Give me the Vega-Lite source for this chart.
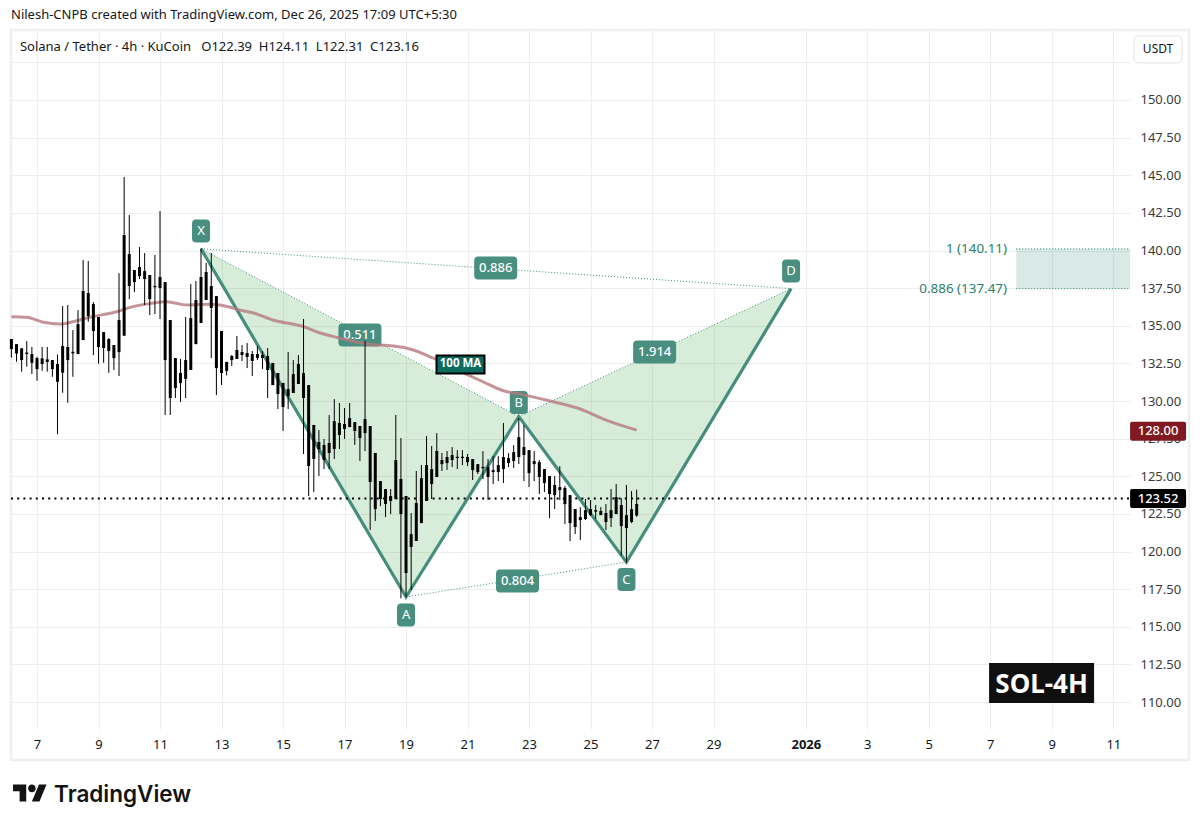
{
  "$schema": "https://vega.github.io/schema/vega-lite/v6.json",
  "autosize": "none",
  "width": 1119,
  "height": 699,
  "padding": {"left": 11, "top": 30, "right": 70, "bottom": 99},
  "background": "#ffffff",
  "title": {
    "text": "Nilesh-CNPB created with TradingView.com, Dec 26, 2025 17:09 UTC+5:30",
    "anchor": "start",
    "frame": "group",
    "font": "Noto Sans",
    "fontSize": 13,
    "fontWeight": "normal",
    "color": "#131722",
    "offset": 7
  },
  "config": {"view": {"stroke": null}, "font": "Noto Sans"},
  "datasets": {
    "candles": [
      {"time":"2025-12-06T04:00Z","high":134.12,"low":132.88,"bodyTop":134.12,"bodyBottom":133.45},
      {"time":"2025-12-06T08:00Z","high":133.78,"low":132.61,"bodyTop":133.78,"bodyBottom":133.16},
      {"time":"2025-12-06T12:00Z","high":133.50,"low":131.95,"bodyTop":133.50,"bodyBottom":132.72},
      {"time":"2025-12-06T16:00Z","high":133.98,"low":132.28,"bodyTop":133.22,"bodyBottom":133.12},
      {"time":"2025-12-06T20:00Z","high":133.59,"low":131.79,"bodyTop":133.12,"bodyBottom":132.54},
      {"time":"2025-12-07T00:00Z","high":132.94,"low":131.35,"bodyTop":132.85,"bodyBottom":132.12},
      {"time":"2025-12-07T04:00Z","high":133.59,"low":132.01,"bodyTop":132.83,"bodyBottom":132.46},
      {"time":"2025-12-07T08:00Z","high":133.59,"low":131.95,"bodyTop":132.77,"bodyBottom":132.59},
      {"time":"2025-12-07T12:00Z","high":132.72,"low":131.61,"bodyTop":132.72,"bodyBottom":132.12},
      {"time":"2025-12-07T16:00Z","high":133.10,"low":127.80,"bodyTop":132.46,"bodyBottom":131.28},
      {"time":"2025-12-07T20:00Z","high":136.31,"low":130.55,"bodyTop":133.65,"bodyBottom":131.88},
      {"time":"2025-12-08T00:00Z","high":136.38,"low":129.89,"bodyTop":133.59,"bodyBottom":132.72},
      {"time":"2025-12-08T04:00Z","high":134.71,"low":131.61,"bodyTop":133.27,"bodyBottom":133.17},
      {"time":"2025-12-08T08:00Z","high":136.04,"low":133.12,"bodyTop":135.11,"bodyBottom":133.12},
      {"time":"2025-12-08T12:00Z","high":139.37,"low":134.05,"bodyTop":137.31,"bodyBottom":134.05},
      {"time":"2025-12-08T16:00Z","high":139.30,"low":135.27,"bodyTop":137.17,"bodyBottom":135.64},
      {"time":"2025-12-08T20:00Z","high":136.57,"low":133.05,"bodyTop":136.44,"bodyBottom":134.65},
      {"time":"2025-12-09T00:00Z","high":135.58,"low":132.48,"bodyTop":135.58,"bodyBottom":133.59},
      {"time":"2025-12-09T04:00Z","high":134.58,"low":132.54,"bodyTop":134.58,"bodyBottom":133.52},
      {"time":"2025-12-09T08:00Z","high":134.18,"low":131.88,"bodyTop":134.12,"bodyBottom":133.32},
      {"time":"2025-12-09T12:00Z","high":133.72,"low":132.06,"bodyTop":133.72,"bodyBottom":132.85},
      {"time":"2025-12-09T16:00Z","high":138.50,"low":131.66,"bodyTop":135.38,"bodyBottom":133.25},
      {"time":"2025-12-09T20:00Z","high":144.88,"low":134.34,"bodyTop":141.03,"bodyBottom":134.34},
      {"time":"2025-12-10T00:00Z","high":142.36,"low":136.77,"bodyTop":139.76,"bodyBottom":137.64},
      {"time":"2025-12-10T04:00Z","high":138.70,"low":137.24,"bodyTop":138.70,"bodyBottom":137.90},
      {"time":"2025-12-10T08:00Z","high":140.23,"low":138.10,"bodyTop":138.90,"bodyBottom":138.30},
      {"time":"2025-12-10T12:00Z","high":139.83,"low":136.38,"bodyTop":138.63,"bodyBottom":138.10},
      {"time":"2025-12-10T16:00Z","high":138.37,"low":135.71,"bodyTop":138.37,"bodyBottom":136.77},
      {"time":"2025-12-10T20:00Z","high":139.70,"low":135.78,"bodyTop":137.65,"bodyBottom":137.56},
      {"time":"2025-12-11T00:00Z","high":142.62,"low":135.45,"bodyTop":138.24,"bodyBottom":137.51},
      {"time":"2025-12-11T04:00Z","high":137.90,"low":129.07,"bodyTop":137.90,"bodyBottom":132.72},
      {"time":"2025-12-11T08:00Z","high":135.38,"low":129.07,"bodyTop":135.38,"bodyBottom":130.20},
      {"time":"2025-12-11T12:00Z","high":132.85,"low":130.20,"bodyTop":132.85,"bodyBottom":130.86},
      {"time":"2025-12-11T16:00Z","high":132.79,"low":129.93,"bodyTop":131.86,"bodyBottom":131.19},
      {"time":"2025-12-11T20:00Z","high":135.58,"low":130.20,"bodyTop":132.72,"bodyBottom":131.46},
      {"time":"2025-12-12T00:00Z","high":137.77,"low":132.06,"bodyTop":135.51,"bodyBottom":132.06},
      {"time":"2025-12-12T04:00Z","high":137.97,"low":133.78,"bodyTop":136.71,"bodyBottom":133.78},
      {"time":"2025-12-12T08:00Z","high":140.14,"low":135.18,"bodyTop":138.24,"bodyBottom":135.18},
      {"time":"2025-12-12T12:00Z","high":139.17,"low":136.71,"bodyTop":138.57,"bodyBottom":136.71},
      {"time":"2025-12-12T16:00Z","high":139.83,"low":132.85,"bodyTop":137.64,"bodyBottom":136.18},
      {"time":"2025-12-12T20:00Z","high":136.97,"low":130.40,"bodyTop":136.97,"bodyBottom":132.19},
      {"time":"2025-12-13T00:00Z","high":134.65,"low":131.06,"bodyTop":134.65,"bodyBottom":131.86},
      {"time":"2025-12-13T04:00Z","high":132.60,"low":131.70,"bodyTop":132.60,"bodyBottom":132.00},
      {"time":"2025-12-13T08:00Z","high":133.06,"low":132.33,"bodyTop":132.99,"bodyBottom":132.72},
      {"time":"2025-12-13T12:00Z","high":134.32,"low":132.79,"bodyTop":133.39,"bodyBottom":132.79},
      {"time":"2025-12-13T16:00Z","high":133.72,"low":132.66,"bodyTop":133.26,"bodyBottom":133.06},
      {"time":"2025-12-13T20:00Z","high":133.85,"low":132.19,"bodyTop":133.19,"bodyBottom":132.92},
      {"time":"2025-12-14T00:00Z","high":133.32,"low":131.66,"bodyTop":133.12,"bodyBottom":132.66},
      {"time":"2025-12-14T04:00Z","high":133.65,"low":132.72,"bodyTop":133.12,"bodyBottom":132.86},
      {"time":"2025-12-14T08:00Z","high":133.32,"low":132.13,"bodyTop":133.06,"bodyBottom":132.86},
      {"time":"2025-12-14T12:00Z","high":133.52,"low":130.20,"bodyTop":132.99,"bodyBottom":132.06},
      {"time":"2025-12-14T16:00Z","high":132.53,"low":131.06,"bodyTop":132.53,"bodyBottom":131.06},
      {"time":"2025-12-14T20:00Z","high":131.86,"low":129.47,"bodyTop":131.86,"bodyBottom":130.47},
      {"time":"2025-12-15T00:00Z","high":131.20,"low":128.01,"bodyTop":131.20,"bodyBottom":129.60},
      {"time":"2025-12-15T04:00Z","high":133.26,"low":129.47,"bodyTop":130.80,"bodyBottom":130.33},
      {"time":"2025-12-15T08:00Z","high":132.72,"low":130.53,"bodyTop":131.79,"bodyBottom":130.53},
      {"time":"2025-12-15T12:00Z","high":133.06,"low":131.13,"bodyTop":132.46,"bodyBottom":131.13},
      {"time":"2025-12-15T16:00Z","high":135.45,"low":126.48,"bodyTop":131.86,"bodyBottom":130.20},
      {"time":"2025-12-15T20:00Z","high":131.06,"low":123.69,"bodyTop":131.06,"bodyBottom":125.68},
      {"time":"2025-12-16T00:00Z","high":128.41,"low":123.95,"bodyTop":128.41,"bodyBottom":126.15},
      {"time":"2025-12-16T04:00Z","high":128.07,"low":125.02,"bodyTop":127.28,"bodyBottom":126.81},
      {"time":"2025-12-16T08:00Z","high":127.48,"low":125.48,"bodyTop":127.08,"bodyBottom":126.08},
      {"time":"2025-12-16T12:00Z","high":129.07,"low":125.48,"bodyTop":127.21,"bodyBottom":126.55},
      {"time":"2025-12-16T16:00Z","high":130.13,"low":126.15,"bodyTop":128.67,"bodyBottom":126.81},
      {"time":"2025-12-16T20:00Z","high":129.87,"low":126.81,"bodyTop":128.54,"bodyBottom":127.74},
      {"time":"2025-12-17T00:00Z","high":129.54,"low":127.48,"bodyTop":128.47,"bodyBottom":128.14},
      {"time":"2025-12-17T04:00Z","high":129.87,"low":128.27,"bodyTop":128.87,"bodyBottom":128.27},
      {"time":"2025-12-17T08:00Z","high":128.60,"low":127.08,"bodyTop":128.60,"bodyBottom":128.01},
      {"time":"2025-12-17T12:00Z","high":128.34,"low":126.01,"bodyTop":128.34,"bodyBottom":127.54},
      {"time":"2025-12-17T16:00Z","high":133.99,"low":126.68,"bodyTop":128.80,"bodyBottom":127.87},
      {"time":"2025-12-17T20:00Z","high":128.34,"low":121.43,"bodyTop":128.34,"bodyBottom":124.62},
      {"time":"2025-12-18T00:00Z","high":126.55,"low":122.03,"bodyTop":126.55,"bodyBottom":122.82},
      {"time":"2025-12-18T04:00Z","high":124.68,"low":123.02,"bodyTop":124.68,"bodyBottom":123.49},
      {"time":"2025-12-18T08:00Z","high":124.15,"low":122.29,"bodyTop":124.15,"bodyBottom":123.16},
      {"time":"2025-12-18T12:00Z","high":124.15,"low":122.49,"bodyTop":123.69,"bodyBottom":123.36},
      {"time":"2025-12-18T16:00Z","high":129.07,"low":123.49,"bodyTop":126.08,"bodyBottom":123.49},
      {"time":"2025-12-18T20:00Z","high":127.54,"low":116.89,"bodyTop":124.82,"bodyBottom":122.49},
      {"time":"2025-12-19T00:00Z","high":123.69,"low":117.00,"bodyTop":123.69,"bodyBottom":118.57},
      {"time":"2025-12-19T04:00Z","high":122.56,"low":117.44,"bodyTop":121.16,"bodyBottom":120.30},
      {"time":"2025-12-19T08:00Z","high":125.35,"low":120.70,"bodyTop":123.22,"bodyBottom":120.70},
      {"time":"2025-12-19T12:00Z","high":125.75,"low":121.89,"bodyTop":124.88,"bodyBottom":121.89},
      {"time":"2025-12-19T16:00Z","high":127.67,"low":123.36,"bodyTop":125.75,"bodyBottom":123.36},
      {"time":"2025-12-19T20:00Z","high":127.01,"low":123.49,"bodyTop":125.48,"bodyBottom":124.49},
      {"time":"2025-12-20T00:00Z","high":127.87,"low":124.95,"bodyTop":126.68,"bodyBottom":124.95},
      {"time":"2025-12-20T04:00Z","high":126.55,"low":125.35,"bodyTop":126.08,"bodyBottom":125.81},
      {"time":"2025-12-20T08:00Z","high":126.68,"low":125.42,"bodyTop":126.28,"bodyBottom":125.88},
      {"time":"2025-12-20T12:00Z","high":126.94,"low":125.61,"bodyTop":126.41,"bodyBottom":126.08},
      {"time":"2025-12-20T16:00Z","high":126.74,"low":125.48,"bodyTop":126.30,"bodyBottom":126.21},
      {"time":"2025-12-20T20:00Z","high":126.74,"low":125.74,"bodyTop":126.30,"bodyBottom":126.21},
      {"time":"2025-12-21T00:00Z","high":126.48,"low":125.68,"bodyTop":126.28,"bodyBottom":125.94},
      {"time":"2025-12-21T04:00Z","high":126.14,"low":124.75,"bodyTop":126.14,"bodyBottom":125.41},
      {"time":"2025-12-21T08:00Z","high":125.81,"low":125.15,"bodyTop":125.81,"bodyBottom":125.28},
      {"time":"2025-12-21T12:00Z","high":126.67,"low":124.81,"bodyTop":125.63,"bodyBottom":125.53},
      {"time":"2025-12-21T16:00Z","high":126.14,"low":123.42,"bodyTop":125.61,"bodyBottom":124.95},
      {"time":"2025-12-21T20:00Z","high":126.34,"low":124.48,"bodyTop":125.41,"bodyBottom":125.28},
      {"time":"2025-12-22T00:00Z","high":126.34,"low":124.68,"bodyTop":125.74,"bodyBottom":125.28},
      {"time":"2025-12-22T04:00Z","high":128.54,"low":124.55,"bodyTop":126.28,"bodyBottom":125.48},
      {"time":"2025-12-22T08:00Z","high":126.54,"low":125.61,"bodyTop":126.21,"bodyBottom":125.88},
      {"time":"2025-12-22T12:00Z","high":127.07,"low":125.55,"bodyTop":126.61,"bodyBottom":126.01},
      {"time":"2025-12-22T16:00Z","high":128.87,"low":125.81,"bodyTop":127.60,"bodyBottom":126.28},
      {"time":"2025-12-22T20:00Z","high":128.40,"low":124.68,"bodyTop":126.94,"bodyBottom":126.41},
      {"time":"2025-12-23T00:00Z","high":126.74,"low":124.28,"bodyTop":126.74,"bodyBottom":125.21},
      {"time":"2025-12-23T04:00Z","high":126.67,"low":124.68,"bodyTop":126.01,"bodyBottom":125.81},
      {"time":"2025-12-23T08:00Z","high":126.08,"low":123.82,"bodyTop":125.94,"bodyBottom":124.95},
      {"time":"2025-12-23T12:00Z","high":125.48,"low":123.95,"bodyTop":125.48,"bodyBottom":124.55},
      {"time":"2025-12-23T16:00Z","high":125.01,"low":122.22,"bodyTop":125.01,"bodyBottom":123.82},
      {"time":"2025-12-23T20:00Z","high":125.01,"low":122.82,"bodyTop":124.42,"bodyBottom":123.75},
      {"time":"2025-12-24T00:00Z","high":125.68,"low":123.42,"bodyTop":124.28,"bodyBottom":124.08},
      {"time":"2025-12-24T04:00Z","high":124.35,"low":121.82,"bodyTop":124.22,"bodyBottom":123.15},
      {"time":"2025-12-24T08:00Z","high":123.75,"low":120.69,"bodyTop":123.75,"bodyBottom":121.89},
      {"time":"2025-12-24T12:00Z","high":122.82,"low":121.16,"bodyTop":122.82,"bodyBottom":121.63},
      {"time":"2025-12-24T16:00Z","high":122.95,"low":120.76,"bodyTop":122.29,"bodyBottom":122.09},
      {"time":"2025-12-24T20:00Z","high":123.49,"low":122.09,"bodyTop":122.75,"bodyBottom":122.16},
      {"time":"2025-12-25T00:00Z","high":123.42,"low":122.36,"bodyTop":122.82,"bodyBottom":122.42},
      {"time":"2025-12-25T04:00Z","high":123.09,"low":122.16,"bodyTop":122.75,"bodyBottom":122.65},
      {"time":"2025-12-25T08:00Z","high":122.95,"low":122.42,"bodyTop":122.69,"bodyBottom":122.42},
      {"time":"2025-12-25T12:00Z","high":123.15,"low":121.43,"bodyTop":122.56,"bodyBottom":121.96},
      {"time":"2025-12-25T16:00Z","high":124.15,"low":121.63,"bodyTop":122.75,"bodyBottom":122.22},
      {"time":"2025-12-25T20:00Z","high":124.48,"low":122.49,"bodyTop":123.62,"bodyBottom":122.49},
      {"time":"2025-12-26T00:00Z","high":123.55,"low":119.76,"bodyTop":123.09,"bodyBottom":121.69},
      {"time":"2025-12-26T04:00Z","high":124.42,"low":119.26,"bodyTop":122.42,"bodyBottom":121.56},
      {"time":"2025-12-26T08:00Z","high":124.02,"low":121.89,"bodyTop":122.82,"bodyBottom":121.96},
      {"time":"2025-12-26T12:00Z","high":124.11,"low":122.31,"bodyTop":123.16,"bodyBottom":122.39}
    ],
    "ma100": [
      {"time":"2025-12-06T04:00Z","price":135.60},
      {"time":"2025-12-06T16:00Z","price":135.56},
      {"time":"2025-12-07T05:00Z","price":135.23},
      {"time":"2025-12-07T18:00Z","price":135.12},
      {"time":"2025-12-08T04:00Z","price":135.27},
      {"time":"2025-12-08T17:00Z","price":135.56},
      {"time":"2025-12-09T14:00Z","price":135.93},
      {"time":"2025-12-10T03:00Z","price":136.27},
      {"time":"2025-12-10T16:00Z","price":136.47},
      {"time":"2025-12-11T05:00Z","price":136.60},
      {"time":"2025-12-11T21:00Z","price":136.38},
      {"time":"2025-12-12T15:00Z","price":136.43},
      {"time":"2025-12-13T07:00Z","price":136.23},
      {"time":"2025-12-13T12:00Z","price":136.09},
      {"time":"2025-12-14T01:00Z","price":135.85},
      {"time":"2025-12-14T16:00Z","price":135.38},
      {"time":"2025-12-15T16:00Z","price":134.94},
      {"time":"2025-12-16T05:00Z","price":134.52},
      {"time":"2025-12-16T20:00Z","price":134.19},
      {"time":"2025-12-17T17:00Z","price":133.79},
      {"time":"2025-12-18T14:00Z","price":133.65},
      {"time":"2025-12-19T03:00Z","price":133.46},
      {"time":"2025-12-19T21:00Z","price":132.86},
      {"time":"2025-12-20T23:00Z","price":131.79},
      {"time":"2025-12-21T12:00Z","price":131.28},
      {"time":"2025-12-22T04:00Z","price":130.68},
      {"time":"2025-12-22T17:00Z","price":130.46},
      {"time":"2025-12-23T19:00Z","price":129.95},
      {"time":"2025-12-24T16:00Z","price":129.47},
      {"time":"2025-12-25T10:00Z","price":128.80},
      {"time":"2025-12-26T12:00Z","price":128.07}
    ]
  },
  "encoding": {
    "x": {
      "field": "time",
      "type": "temporal",
      "scale": {
        "type": "utc",
        "nice": false,
        "domain": [
          {"year": 2025, "month": 12, "date": 6, "hours": 3, "minutes": 42, "utc": true},
          {"year": 2026, "month": 1, "date": 11, "hours": 13, "utc": true}
        ]
      },
      "axis": {
        "title": null,
        "domain": false,
        "ticks": false,
        "labelPadding": 9,
        "labelFontSize": 13,
        "labelColor": "#131722",
        "labelFlush": false,
        "labelOverlap": false,
        "gridColor": "#eeeeee",
        "values": [
          {"year": 2025, "month": 12, "date": 7, "utc": true},
          {"year": 2025, "month": 12, "date": 9, "utc": true},
          {"year": 2025, "month": 12, "date": 11, "utc": true},
          {"year": 2025, "month": 12, "date": 13, "utc": true},
          {"year": 2025, "month": 12, "date": 15, "utc": true},
          {"year": 2025, "month": 12, "date": 17, "utc": true},
          {"year": 2025, "month": 12, "date": 19, "utc": true},
          {"year": 2025, "month": 12, "date": 21, "utc": true},
          {"year": 2025, "month": 12, "date": 23, "utc": true},
          {"year": 2025, "month": 12, "date": 25, "utc": true},
          {"year": 2025, "month": 12, "date": 27, "utc": true},
          {"year": 2025, "month": 12, "date": 29, "utc": true},
          {"year": 2026, "month": 1, "date": 1, "utc": true},
          {"year": 2026, "month": 1, "date": 3, "utc": true},
          {"year": 2026, "month": 1, "date": 5, "utc": true},
          {"year": 2026, "month": 1, "date": 7, "utc": true},
          {"year": 2026, "month": 1, "date": 9, "utc": true},
          {"year": 2026, "month": 1, "date": 11, "utc": true}
        ],
        "labelExpr": "utcmonth(datum.value) == 0 && utcdate(datum.value) == 1 ? '2026' : utcFormat(datum.value, '%-d')",
        "labelFontWeight": {
          "condition": {"test": "utcmonth(datum.value) == 0 && utcdate(datum.value) == 1", "value": "bold"},
          "value": "normal"
        }
      }
    },
    "y": {
      "field": "price",
      "type": "quantitative",
      "scale": {"domain": [108.21, 154.65], "nice": false, "zero": false},
      "axis": {
        "title": null,
        "orient": "right",
        "domain": false,
        "ticks": false,
        "labelPadding": 10,
        "labelFontSize": 13,
        "labelColor": "#3a3a3a",
        "labelOverlap": false,
        "gridColor": "#eeeeee",
        "values": [110, 112.5, 115, 117.5, 120, 122.5, 125, 127.5, 130, 132.5, 135, 137.5, 140, 142.5, 145, 147.5, 150, 152.5],
        "labelExpr": "datum.value > 150 ? '' : format(datum.value, '.2f')"
      }
    }
  },
  "layer": [
    {
      "data": {"values": [{"time": "2025-12-06T03:42Z", "end": "2026-01-13T11:04Z", "price": 106.15, "top": 154.65}], "format": {"parse": {"end": "date"}}},
      "mark": {"type": "rect", "fill": null, "stroke": "#f0f0f0", "strokeWidth": 2.5},
      "encoding": {"x2": {"field": "end"}, "y2": {"field": "top"}}
    },
    {
      "data": {"values": [{"time": "2026-01-07T20:10Z", "end": "2026-01-11T13:00Z", "price": 137.47, "top": 140.11}], "format": {"parse": {"end": "date"}}},
      "mark": {"type": "rect", "fill": "#1b7a66", "fillOpacity": 0.17},
      "encoding": {"x2": {"field": "end"}, "y2": {"field": "top"}}
    },
    {
      "data": {"values": [{"time": "2026-01-07T20:10Z", "end": "2026-01-11T13:00Z", "price": 137.47}, {"time": "2026-01-07T20:10Z", "end": "2026-01-11T13:00Z", "price": 140.11}], "format": {"parse": {"end": "date"}}},
      "mark": {"type": "rule", "color": "#2f8a76", "strokeWidth": 1, "strokeDash": [1, 2]},
      "encoding": {"x2": {"field": "end"}}
    },
    {
      "data": {"values": [
        {"time": "2026-01-07T13:00Z", "price": 140.11, "label": "1 (140.11)"},
        {"time": "2026-01-07T13:00Z", "price": 137.47, "label": "0.886 (137.47)"}
      ]},
      "mark": {"type": "text", "align": "right", "baseline": "middle", "fontSize": 13.4, "color": "#2a7f6e"},
      "encoding": {"text": {"field": "label"}}
    },
    {
      "data": {"values": [
        {"leg": "XAB", "time": "2025-12-12T08:00Z", "price": 140.11, "top": 140.11},
        {"leg": "XAB", "time": "2025-12-19T00:00Z", "price": 116.98, "top": 132.92},
        {"leg": "XAB", "time": "2025-12-22T16:00Z", "price": 128.97, "top": 128.97},
        {"leg": "BCD", "time": "2025-12-22T16:00Z", "price": 128.97, "top": 128.97},
        {"leg": "BCD", "time": "2025-12-26T04:00Z", "price": 119.30, "top": 132.33},
        {"leg": "BCD", "time": "2025-12-31T12:30Z", "price": 137.47, "top": 137.47}
      ]},
      "mark": {"type": "area", "color": "#4caf50", "opacity": 0.22},
      "encoding": {"y2": {"field": "top"}, "detail": {"field": "leg"}}
    },
    {
      "data": {"values": [
        {"leg": "XB", "time": "2025-12-12T08:00Z", "price": 140.11},
        {"leg": "XB", "time": "2025-12-22T16:00Z", "price": 128.97},
        {"leg": "BD", "time": "2025-12-22T16:00Z", "price": 128.97},
        {"leg": "BD", "time": "2025-12-31T12:30Z", "price": 137.47},
        {"leg": "XD", "time": "2025-12-12T08:00Z", "price": 140.11},
        {"leg": "XD", "time": "2025-12-31T12:30Z", "price": 137.47},
        {"leg": "AC", "time": "2025-12-19T00:00Z", "price": 116.98},
        {"leg": "AC", "time": "2025-12-26T04:00Z", "price": 119.30}
      ]},
      "mark": {"type": "line", "color": "#3f9080", "strokeWidth": 1, "strokeDash": [1, 2]},
      "encoding": {"detail": {"field": "leg"}}
    },
    {
      "data": {"values": [
        {"time": "2025-12-12T08:00Z", "price": 140.11},
        {"time": "2025-12-19T00:00Z", "price": 116.98},
        {"time": "2025-12-22T16:00Z", "price": 128.97},
        {"time": "2025-12-26T04:00Z", "price": 119.30},
        {"time": "2025-12-31T12:30Z", "price": 137.47}
      ]},
      "mark": {"type": "line", "color": "#458e7e", "strokeWidth": 3.2, "strokeJoin": "miter"}
    },
    {
      "data": {"values": [
        {"time": "2025-12-12T08:00Z", "price": 141.30, "label": "X"},
        {"time": "2025-12-19T00:00Z", "price": 115.78, "label": "A"},
        {"time": "2025-12-22T16:00Z", "price": 129.90, "label": "B"},
        {"time": "2025-12-26T04:00Z", "price": 118.14, "label": "C"},
        {"time": "2025-12-31T12:30Z", "price": 138.64, "label": "D"}
      ]},
      "layer": [
        {
          "mark": {"type": "point", "filled": true, "opacity": 1, "color": "#488f80", "size": 4,
            "shape": "M-5,-11.5H5Q9,-11.5 9,-7.5V7.5Q9,11.5 5,11.5H-5Q-9,11.5 -9,7.5V-7.5Q-9,-11.5 -5,-11.5Z"}
        },
        {
          "mark": {"type": "text", "color": "#ffffff", "fontSize": 13, "baseline": "middle"},
          "encoding": {"text": {"field": "label"}}
        }
      ]
    },
    {
      "data": {"values": [
        {"time": "2025-12-21T22:00Z", "price": 138.84, "label": "0.886"},
        {"time": "2025-12-17T12:00Z", "price": 134.39, "label": "0.511"},
        {"time": "2025-12-27T02:00Z", "price": 133.26, "label": "1.914"},
        {"time": "2025-12-22T15:00Z", "price": 118.04, "label": "0.804"}
      ]},
      "layer": [
        {
          "mark": {"type": "point", "filled": true, "opacity": 1, "color": "#488f80", "size": 4,
            "shape": "M-17.5,-11.5H17.5Q21.5,-11.5 21.5,-7.5V7.5Q21.5,11.5 17.5,11.5H-17.5Q-21.5,11.5 -21.5,7.5V-7.5Q-21.5,-11.5 -17.5,-11.5Z"}
        },
        {
          "mark": {"type": "text", "color": "#ffffff", "fontSize": 13, "fontWeight": 500, "baseline": "middle"},
          "encoding": {"text": {"field": "label"}}
        }
      ]
    },
    {
      "data": {"name": "ma100"},
      "mark": {"type": "line", "color": "#b5797f", "opacity": 0.8, "strokeWidth": 3, "interpolate": "monotone"}
    },
    {
      "data": {"name": "candles"},
      "mark": {"type": "rule", "color": "#000000", "strokeWidth": 1},
      "encoding": {"y": {"field": "high", "type": "quantitative", "title": null}, "y2": {"field": "low"}}
    },
    {
      "data": {"name": "candles"},
      "mark": {"type": "rule", "color": "#000000", "strokeWidth": 3},
      "encoding": {"y": {"field": "bodyTop", "type": "quantitative", "title": null}, "y2": {"field": "bodyBottom"}}
    },
    {
      "data": {"values": [{"time": "2025-12-06T03:42Z", "end": "2026-01-11T13:00Z", "price": 123.52}], "format": {"parse": {"end": "date"}}},
      "mark": {"type": "rule", "color": "#000000", "strokeWidth": 2, "strokeDash": [2, 4.2]},
      "encoding": {"x2": {"field": "end"}}
    },
    {
      "data": {"values": [{"time": "2025-12-20T18:30Z", "price": 132.43, "label": "100 MA"}]},
      "layer": [
        {
          "mark": {"type": "point", "filled": true, "opacity": 1, "fill": "#0e6b5e", "stroke": "#000000", "strokeWidth": 2, "size": 4,
            "shape": "M-24,-9H24V9H-24Z"}
        },
        {
          "mark": {"type": "text", "color": "#ffffff", "fontSize": 11.5, "fontWeight": "bold", "baseline": "middle"},
          "encoding": {"text": {"field": "label"}}
        }
      ]
    },
    {
      "data": {"values": [
        {"time": "2026-01-12T10:55Z", "price": 128.00, "label": "128.00", "kind": "ma"},
        {"time": "2026-01-12T10:55Z", "price": 123.52, "label": "123.52", "kind": "last"}
      ]},
      "layer": [
        {
          "mark": {"type": "point", "filled": true, "opacity": 1, "size": 4,
            "shape": "M-26,-9.5H26Q28,-9.5 28,-7.5V7.5Q28,9.5 26,9.5H-26Q-28,9.5 -28,7.5V-7.5Q-28,-9.5 -26,-9.5Z"},
          "encoding": {
            "color": {"field": "kind", "type": "nominal", "scale": {"domain": ["ma", "last"], "range": ["#801922", "#000000"]}, "legend": null}
          }
        },
        {
          "mark": {"type": "text", "color": "#ffffff", "fontSize": 13, "fontWeight": 500, "baseline": "middle"},
          "encoding": {"text": {"field": "label"}}
        }
      ]
    },
    {
      "data": {"values": [{"time": "2026-01-08T16:00Z", "price": 111.26, "label": "SOL-4H"}]},
      "layer": [
        {
          "mark": {"type": "point", "filled": true, "opacity": 1, "color": "#0f0f0f", "size": 4,
            "shape": "M-52.5,-20H52.5V20H-52.5Z"}
        },
        {
          "mark": {"type": "text", "color": "#ffffff", "fontSize": 26, "fontWeight": "bold", "baseline": "middle", "dy": 1.5},
          "encoding": {"text": {"field": "label"}}
        }
      ]
    },
    {
      "data": {"values": [{"time": "2026-01-12T10:55Z", "price": 153.36, "label": "USDT"}]},
      "layer": [
        {
          "mark": {"type": "point", "filled": false, "opacity": 1, "color": "#e0e3eb", "strokeWidth": 1, "size": 4,
            "shape": "M-19,-13.5H19Q24,-13.5 24,-8.5V8.5Q24,13.5 19,13.5H-19Q-24,13.5 -24,8.5V-8.5Q-24,-13.5 -19,-13.5Z"}
        },
        {
          "mark": {"type": "text", "color": "#131722", "fontSize": 12, "baseline": "middle"},
          "encoding": {"text": {"field": "label"}}
        }
      ]
    },
    {
      "data": {"values": [{"time": "2025-12-06T10:40Z", "price": 153.52, "label": "Solana / Tether\u00a0· 4h · KuCoin\u00a0\u00a0\u00a0O122.39\u00a0\u00a0H124.11\u00a0\u00a0L122.31\u00a0\u00a0C123.16"}]},
      "mark": {"type": "text", "align": "left", "baseline": "middle", "fontSize": 13, "color": "#131722"},
      "encoding": {"text": {"field": "label"}}
    },
    {
      "data": {"values": [{"time": "2025-12-06T18:32Z", "price": 103.95}]},
      "mark": {"type": "point", "filled": true, "opacity": 1, "color": "#131313", "size": 1156,
        "shape": "M-0.222,0.5H-0.611V-0.111H-1V-0.5H-0.222ZM0.556,0.5H0.111L0.528,-0.5H0.972ZM-0.111,-0.278a0.222,0.222 0 1,0 0.444,0a0.222,0.222 0 1,0 -0.444,0Z"}
    },
    {
      "data": {"values": [{"time": "2025-12-07T13:20Z", "price": 103.35, "label": "TradingView"}]},
      "mark": {"type": "text", "align": "left", "baseline": "alphabetic", "font": "Inter", "fontSize": 22.5, "fontWeight": 600, "color": "#131313"},
      "encoding": {"text": {"field": "label"}}
    }
  ]
}
